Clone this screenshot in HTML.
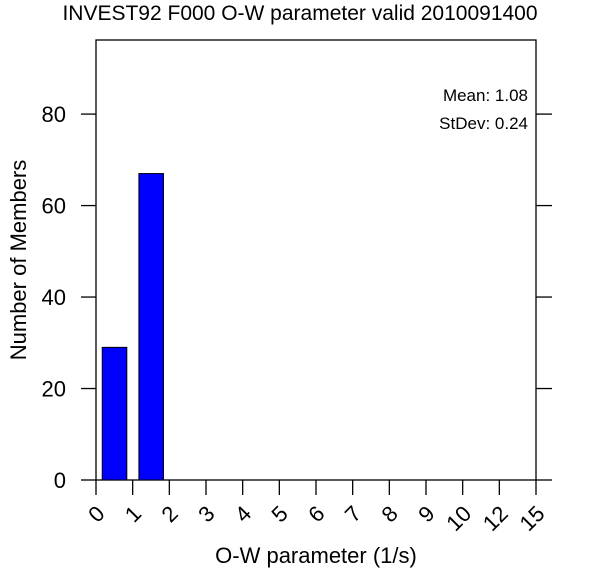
<!DOCTYPE html>
<html><head><meta charset="utf-8"><style>
body{margin:0;background:#fff;}
svg{display:block;font-family:"Liberation Sans",Helvetica,sans-serif;}
</style></head><body>
<svg id="chart" width="600" height="584" viewBox="0 0 600 584">
<text x="300" y="20" text-anchor="middle" font-size="21">INVEST92 F000 O-W parameter valid 2010091400</text>
<rect x="96" y="40" width="440" height="440" fill="none" stroke="#000" stroke-width="1.3"/>
<g id="bars"></g>
<g id="axes"></g>
<text x="528" y="101" text-anchor="end" font-size="17">Mean: 1.08</text>
<text x="528" y="129" text-anchor="end" font-size="17">StDev: 0.24</text>
<text x="316" y="563" text-anchor="middle" font-size="22">O-W parameter (1/s)</text>
<text transform="translate(26,260) rotate(-90)" text-anchor="middle" font-size="22">Number of Members</text>
</svg>
<script>
const categories = ["0","1","2","3","4","5","6","7","8","9","10","12","15"];
const counts = [29, 67, 0, 0, 0, 0, 0, 0, 0, 0, 0, 0];
const yTicks = [0, 20, 40, 60, 80];
const yMax = 96.2;
const ns = "http://www.w3.org/2000/svg";
const x0 = 96, x1 = 536, yb = 480, yt = 40;
const step = (x1 - x0) / (categories.length - 1);
const xs = i => x0 + i * step;
const ys = v => yb - v / yMax * (yb - yt);
const bars = document.getElementById('bars'), axes = document.getElementById('axes');
function mk(tag, attrs, parent){const e=document.createElementNS(ns,tag);for(const k in attrs)e.setAttribute(k,attrs[k]);parent.appendChild(e);return e;}
counts.forEach((c,i)=>{
  if(c<=0) return;
  const r = mk('rect',{x:xs(i)+step*0.17,y:ys(c),width:step*0.67,height:yb-ys(c),fill:'#0000ff',stroke:'#000','stroke-width':1},bars);
  
  
});
yTicks.forEach(v=>{
  const y=ys(v);
  const l=mk('line',{x1:81,x2:96,y1:y,y2:y,stroke:'#000','stroke-width':1.3},axes);
  
  
  const r=mk('line',{x1:536,x2:552,y1:y,y2:y,stroke:'#000','stroke-width':1.3},axes);
  
  
  const t=mk('text',{x:66,y:y+8,'text-anchor':'end','font-size':22},axes);
  t.textContent=v;
  
  
});
categories.forEach((c,i)=>{
  const x=xs(i);
  const l=mk('line',{x1:x,x2:x,y1:480,y2:495,stroke:'#000','stroke-width':1.3},axes);
  
  
  const t=mk('text',{transform:`translate(${x+10},${515}) rotate(-45)`,'text-anchor':'end','font-size':22},axes);
  t.textContent=c;
  
  
});
</script>
</body></html>
